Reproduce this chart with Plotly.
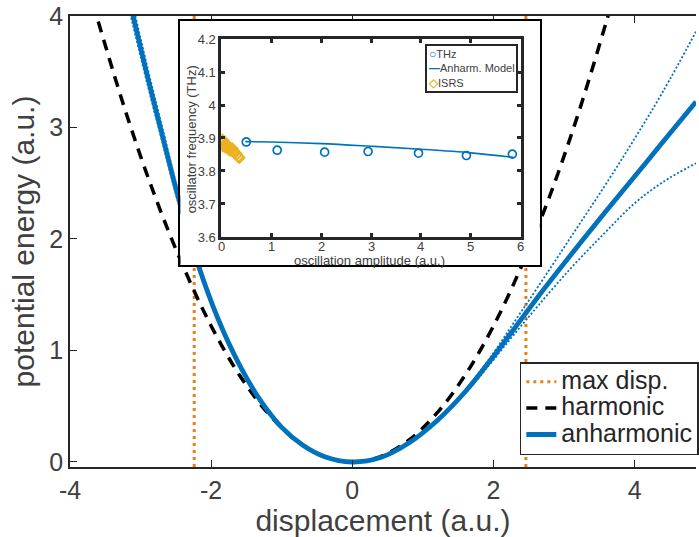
import plotly.graph_objects as go

# ---------------- main panel data ----------------
max_disp_x = [-2.24, 2.46]
y_range = [-0.045, 4.0]

harm_x = [-3.6, -3.2, -2.8, -2.4, -2.0, -1.6, -1.2, -0.8, -0.4, 0.0,
          0.4, 0.8, 1.2, 1.6, 2.0, 2.4, 2.8, 3.2, 3.6, 3.65]
harm_y = [3.95, 3.12, 2.39, 1.76, 1.22, 0.78, 0.44, 0.195, 0.049, 0.0,
          0.049, 0.195, 0.44, 0.78, 1.22, 1.76, 2.39, 3.12, 3.95, 4.06]

anh_x = [-3.2, -2.9, -2.7, -2.46, -2.2, -1.9, -1.59, -1.3, -1.0, -0.7, -0.4, 0.0,
         0.4, 0.8, 1.2, 1.6, 1.98, 2.3, 2.63, 3.1, 3.57, 4.0, 4.4, 4.87]
anh_y = [4.25, 3.45, 2.95, 2.36, 1.80, 1.28, 0.86, 0.55, 0.31, 0.15, 0.05, 0.0,
         0.04, 0.17, 0.37, 0.63, 0.93, 1.20, 1.48, 1.86, 2.23, 2.56, 2.87, 3.23]
anh_upper_y = [4.35, 3.53, 3.02, 2.41, 1.84, 1.30, 0.87, 0.555, 0.315, 0.152, 0.05, 0.0,
               0.04, 0.17, 0.375, 0.645, 0.96, 1.26, 1.57, 2.02, 2.47, 2.90, 3.32, 3.86]
anh_lower_y = [4.16, 3.38, 2.89, 2.31, 1.76, 1.26, 0.85, 0.545, 0.305, 0.148, 0.05, 0.0,
               0.04, 0.17, 0.365, 0.615, 0.90, 1.15, 1.40, 1.74, 2.05, 2.32, 2.51, 2.68]

main_xticks = [-4, -2, 0, 2, 4]
main_xticklabels = ["-4", "-2", "0", "2", "4"]
main_yticks = [0, 1, 2, 3, 4]
main_yticklabels = ["0", "1", "2", "3", "4"]
main_legend_names = ["max disp.", "harmonic", "anharmonic"]

# ---------------- inset data ----------------
thz_x = [0.50, 1.12, 2.07, 2.94, 3.95, 4.91, 5.83]
thz_y = [3.888, 3.863, 3.857, 3.859, 3.854, 3.847, 3.851]

model_x = [0.48, 1.0, 2.0, 3.0, 4.0, 5.0, 5.87]
model_y = [3.889, 3.888, 3.883, 3.875, 3.866, 3.855, 3.841]

isrs_x = [0.02, 0.03, 0.04, 0.05, 0.06, 0.08, 0.09, 0.10, 0.12, 0.13, 0.14, 0.16, 0.17,
          0.18, 0.20, 0.22, 0.25, 0.28, 0.31, 0.34, 0.36]
isrs_y = [3.895, 3.875, 3.885, 3.890, 3.878, 3.872, 3.880, 3.875, 3.870, 3.877, 3.868, 3.872, 3.862,
          3.866, 3.862, 3.868, 3.860, 3.855, 3.850, 3.843, 3.840]

inset_xticks = [0, 1, 2, 3, 4, 5, 6]
inset_xticklabels = ["0", "1", "2", "3", "4", "5", "6"]
inset_yticks = [3.6, 3.7, 3.8, 3.9, 4.0, 4.1, 4.2]
inset_yticklabels = ["3.6", "3.7", "3.8", "3.9", "4", "4.1", "4.2"]
inset_legend_names = ["THz", "Anharm. Model", "ISRS"]

# ---------------- styling ----------------
BLUE = "#0072BD"
ORANGE = "#E5801A"
YELLOW = "#EDB120"
AX = "#262626"
TXT = "#404040"
FONT = "Liberation Sans, Arial, Helvetica, sans-serif"


def big(name):
    return "<span style='font-size:25px'>" + name + "</span>"


fig = go.Figure()

vx, vy = [], []
for xv in max_disp_x:
    vx += [xv, xv, None]
    vy += [y_range[0], y_range[1], None]
fig.add_trace(go.Scatter(x=vx, y=vy, mode="lines", name=big(main_legend_names[0]),
                         line=dict(color=ORANGE, width=3, dash="3px,4px"),
                         hoverinfo="skip"))
fig.add_trace(go.Scatter(x=harm_x, y=harm_y, mode="lines", name=big(main_legend_names[1]),
                         line=dict(color="black", width=3.5, dash="11px,8px", shape="spline")))
fig.add_trace(go.Scatter(x=anh_x, y=anh_upper_y, mode="lines", showlegend=False,
                         line=dict(color=BLUE, width=1.8, dash="2px,2px", shape="spline")))
fig.add_trace(go.Scatter(x=anh_x, y=anh_lower_y, mode="lines", showlegend=False,
                         line=dict(color=BLUE, width=1.8, dash="2px,2px", shape="spline")))
fig.add_trace(go.Scatter(x=anh_x, y=anh_y, mode="lines", name=big(main_legend_names[2]),
                         line=dict(color=BLUE, width=4.8, shape="spline")))

# empty trace to create the white inset frame subplot
fig.add_trace(go.Scatter(x=[], y=[], xaxis="x2", yaxis="y2", showlegend=False,
                         hoverinfo="skip"))

# inset traces
fig.add_trace(go.Scatter(x=thz_x, y=thz_y, mode="markers", name=inset_legend_names[0],
                         xaxis="x3", yaxis="y3", showlegend=False,
                         marker=dict(symbol="circle-open", size=8, color=BLUE,
                                     line=dict(width=1.7, color=BLUE))))
fig.add_trace(go.Scatter(x=model_x, y=model_y, mode="lines", name=inset_legend_names[1],
                         xaxis="x3", yaxis="y3", showlegend=False,
                         line=dict(color=BLUE, width=1.6, shape="spline")))
fig.add_trace(go.Scatter(x=isrs_x, y=isrs_y, mode="markers", name=inset_legend_names[2],
                         xaxis="x3", yaxis="y3", showlegend=False,
                         marker=dict(symbol="diamond-open", size=8, color=YELLOW,
                                     line=dict(width=1.8, color=YELLOW))))

inset_legend_text = (
    "<span style='color:%s;font-size:12px'><b>○</b></span>%s<br>"
    "<span style='color:%s'><b>—</b></span>%s<br>"
    "<span style='color:%s;font-size:12px'><b>◇</b></span>%s"
) % (BLUE, inset_legend_names[0], BLUE, inset_legend_names[1], YELLOW, inset_legend_names[2])

annotations = [
    dict(text="oscillation amplitude (a.u.)", xref="paper", yref="paper",
         x=0.4785, y=0.4568, xanchor="center", yanchor="middle", showarrow=False,
         font=dict(size=13, color=TXT)),
    dict(text="oscillator frequency (THz)", xref="paper", yref="paper",
         x=0.1955, y=0.7273, xanchor="center", yanchor="middle", showarrow=False,
         textangle=-90, font=dict(size=13, color=TXT)),
    dict(text=inset_legend_text, xref="paper", yref="paper",
         x=0.5676, y=0.938, xanchor="left", yanchor="top", showarrow=False, align="left",
         bgcolor="white", bordercolor=AX, borderwidth=2, borderpad=1,
         font=dict(size=11, color=TXT)),
]
# inset x tick labels (placed close to the axis, as in the reference)
for tv, tl in zip(inset_xticks, inset_xticklabels):
    annotations.append(dict(text=tl, xref="x3", yref="paper", x=tv, y=0.4900,
                            xanchor="center", yanchor="middle", showarrow=False,
                            font=dict(size=13, color=TXT)))

fig.update_layout(
    width=699, height=537,
    margin=dict(l=70, r=0, t=16, b=70),
    paper_bgcolor="white", plot_bgcolor="white",
    font=dict(family=FONT, color=TXT),
    xaxis=dict(domain=[0, 1], range=[-4, 4.87], tickvals=main_xticks, ticktext=main_xticklabels,
               ticks="inside", ticklen=7, tickwidth=1.3, tickcolor=AX,
               showline=True, linecolor=AX, linewidth=1.5, mirror="ticks",
               showgrid=False, zeroline=False, tickfont=dict(size=25, color=TXT),
               title=dict(text="displacement (a.u.)", font=dict(size=30, color=TXT), standoff=4)),
    yaxis=dict(domain=[0, 1], range=y_range, tickvals=main_yticks, ticktext=main_yticklabels,
               ticks="inside", ticklen=7, tickwidth=1.3, tickcolor=AX,
               showline=True, linecolor=AX, linewidth=1.5, mirror=False,
               showgrid=False, zeroline=False, tickfont=dict(size=25, color=TXT),
               title=dict(text="potential energy (a.u.)", font=dict(size=30, color=TXT), standoff=6)),
    xaxis2=dict(domain=[0.1765, 0.7504], anchor="y2", range=[0, 1], showline=True, mirror=True,
                linecolor="black", linewidth=1.5, showticklabels=False, ticks="",
                showgrid=False, zeroline=False, fixedrange=True),
    yaxis2=dict(domain=[0.4479, 0.9889], anchor="x2", range=[0, 1], showline=True, mirror=True,
                linecolor="black", linewidth=1.5, showticklabels=False, ticks="",
                showgrid=False, zeroline=False, fixedrange=True),
    xaxis3=dict(domain=[0.2417, 0.7202], anchor="y3", range=[0, 6], tickvals=inset_xticks,
                ticks="inside", ticklen=4, tickwidth=2.5, tickcolor=AX,
                showline=True, linecolor=AX, linewidth=2.8, mirror="ticks",
                showgrid=False, zeroline=False, showticklabels=False),
    yaxis3=dict(domain=[0.51, 0.949], anchor="x3", range=[3.6, 4.2], tickvals=inset_yticks,
                ticktext=inset_yticklabels,
                ticks="inside", ticklen=4, tickwidth=2.5, tickcolor=AX,
                showline=True, linecolor=AX, linewidth=2.8, mirror="ticks",
                showgrid=False, zeroline=False, tickfont=dict(size=13, color=TXT)),
    legend=dict(x=0.7186, y=0.2328, xanchor="left", yanchor="top", bgcolor="white",
                bordercolor=AX, borderwidth=1.5, font=dict(size=18, color=AX, family=FONT),
                tracegroupgap=0, itemwidth=30),
    showlegend=True,
    annotations=annotations,
)

fig.write_html("out.html")
